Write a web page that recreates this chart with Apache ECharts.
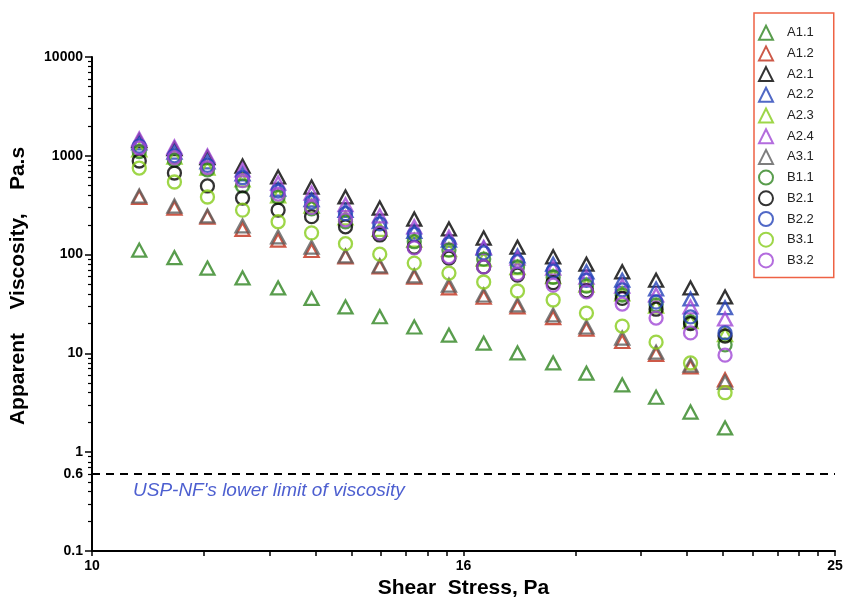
<!DOCTYPE html>
<html>
<head>
<meta charset="utf-8">
<script src="https://cdn.jsdelivr.net/npm/echarts@6/dist/echarts.min.js"></script>
<style>
html, body { margin: 0; background: #fff; }
#chart { width: 845px; height: 600px; }
</style>
</head>
<body>
<div id="chart"></div>
<script>
// shear stress (Pa) of the 18 measuring points
var shearStress = [10.60, 11.07, 11.53, 12.04, 12.58, 13.11, 13.67, 14.26, 14.88, 15.53, 16.21, 16.90, 17.66, 18.40, 19.23, 20.05, 20.92, 21.83];

// apparent viscosity (Pa.s), one list per sample
var A1_1 = [111, 93, 73, 58, 46, 36, 29.5, 23.5, 18.5, 15.3, 12.7, 10.1, 8.0, 6.3, 4.8, 3.6, 2.55, 1.76];
var A1_2 = [380, 296, 240, 180, 140, 110, 95, 75, 59, 46, 37, 29.5, 23, 17.6, 13.2, 9.8, 7.3, 5.4];
var A2_1 = [1420, 1180, 960, 788, 610, 483, 383, 296, 229, 182, 147, 119, 95, 80, 67, 55, 46, 37.3];
var A2_2 = [1350, 1091, 870, 655, 460, 359, 280, 215, 172, 140, 116, 97, 80, 67, 55, 45, 35.6, 29];
var A2_3 = [1150, 972, 752, 570, 393, 310, 235, 180, 140, 112, 90, 74, 60, 49, 40, 30, 21, 15.5];
var A2_4 = [1480, 1227, 995, 718, 530, 420, 320, 246, 191, 150, 118, 92, 73, 59, 48, 39, 29.5, 22.3];
var A3_1 = [392, 310, 246, 195, 151, 119, 97, 77, 61, 49, 39, 31, 24.5, 18.5, 14.3, 10.3, 7.6, 5.1];
var B1_1 = [1100, 900, 720, 495, 380, 290, 215, 166, 135, 111, 90, 75, 59, 48, 39, 30.9, 20.8, 12.2];
var B2_1 = [886, 670, 495, 374, 282, 242, 191, 158, 119, 92, 75, 62, 52, 43, 36, 28, 20, 15];
var B2_2 = [1250, 1000, 800, 600, 440, 340, 260, 205, 160, 128, 104, 85, 68, 55, 44, 33, 23.4, 16.1];
var B3_1 = [752, 543, 383, 282, 215, 166, 129, 101, 82, 65, 52.8, 42.8, 34.7, 25.6, 18.9, 13.0, 8.0, 4.0];
var B3_2 = [1200, 960, 760, 560, 410, 300, 225, 165, 117, 95, 75, 64, 49, 42, 31.6, 22.8, 16.1, 9.6];

var sampleNames = ['A1.1', 'A1.2', 'A2.1', 'A2.2', 'A2.3', 'A2.4', 'A3.1', 'B1.1', 'B2.1', 'B2.2', 'B3.1', 'B3.2'];
var sampleValues = [A1_1, A1_2, A2_1, A2_2, A2_3, A2_4, A3_1, B1_1, B2_1, B2_2, B3_1, B3_2];
var sampleColors = ['#2f8420', '#c0301a', '#000000', '#2442b8', '#86cc1a', '#a047d6', '#5e5e5e',
                    '#2f8420', '#000000', '#2442b8', '#86cc1a', '#a047d6'];

// tick labels of the printed shear stress axis
var xTickLabels = ['10', '16', '25'];
var uspLimit = 0.6;
var uspText = "USP-NF's lower limit of viscosity";

var font = '"Liberation Sans", Arial, sans-serif';

var myChart = echarts.init(document.getElementById('chart'));

var series = sampleNames.map(function (name, i) {
    var isTriangle = name.charAt(0) === 'A';
    return {
        name: name,
        type: 'scatter',
        xAxisIndex: 0,
        symbol: isTriangle ? 'triangle' : 'circle',
        symbolSize: isTriangle ? [14, 13] : 13,
        itemStyle: {
            color: 'rgba(255,255,255,0)',
            borderColor: sampleColors[i],
            borderWidth: 2.3
        },
        emphasis: { disabled: true },
        data: shearStress.map(function (x, j) { return [x, sampleValues[i][j]]; })
    };
});

// dashed limit line and its value label
series[0].markLine = {
    silent: true,
    symbol: 'none',
    animation: false,
    data: [{
        yAxis: uspLimit,
        lineStyle: { color: '#000', type: [8, 6], width: 2 },
        label: {
            show: true, position: 'start', formatter: String(uspLimit), distance: 9,
            color: '#000', fontWeight: 'bold', fontSize: 14, fontFamily: font
        }
    }]
};
// caption under the limit line (line itself invisible)
series[1].markLine = {
    silent: true,
    symbol: 'none',
    animation: false,
    data: [{
        yAxis: uspLimit,
        lineStyle: { color: 'rgba(0,0,0,0)', width: 0 },
        label: {
            show: true, position: 'insideStartBottom', formatter: uspText, distance: [41, 7],
            color: '#4d5fd0', fontStyle: 'italic', fontSize: 19, fontFamily: font
        }
    }]
};

var option = {
    backgroundColor: '#fff',
    animation: false,
    grid: { left: 92, right: 10, top: 57, bottom: 49, outerBoundsMode: 'none' },
    legend: {
        orient: 'vertical',
        left: 754,
        top: 13,
        padding: [11.7, 20, 9, 4],
        itemGap: 4.7,
        itemWidth: 14,
        itemHeight: 14,
        borderColor: '#ee6244',
        borderWidth: 1.5,
        backgroundColor: '#fff',
        selectedMode: false,
        data: sampleNames,
        textStyle: { color: '#222', fontSize: 13, fontFamily: font, padding: [0, 0, 0, 9] }
    },
    xAxis: [
        {   // data axis
            type: 'log',
            min: 10,
            max: 25,
            show: false
        },
        {   // printed axis
            type: 'log',
            min: 1,
            max: 100,
            position: 'bottom',
            name: 'Shear  Stress, Pa',
            nameLocation: 'middle',
            nameGap: 27,
            nameTextStyle: { color: '#000', fontWeight: 'bold', fontSize: 21, fontFamily: font },
            axisLine: { lineStyle: { color: '#000', width: 2 } },
            axisTick: { show: true, length: 5, lineStyle: { color: '#000', width: 1.5 } },
            minorTick: { show: true, splitNumber: 9, length: 5, lineStyle: { color: '#000', width: 1.5 } },
            splitLine: { show: false },
            axisLabel: {
                margin: 8, color: '#000', fontWeight: 'bold', fontSize: 14, fontFamily: font,
                formatter: function (v, idx) { return xTickLabels[idx]; }
            }
        }
    ],
    yAxis: {
        type: 'log',
        min: 0.1,
        max: 10000,
        name: 'Apparent    Viscosity,    Pa.s',
        nameLocation: 'middle',
        nameGap: 63,
        nameTextStyle: { color: '#000', fontWeight: 'bold', fontSize: 21, fontFamily: font, padding: [0, 0, 0, 36] },
        axisLine: { show: true, lineStyle: { color: '#000', width: 2 } },
        axisTick: { show: true, length: 7, lineStyle: { color: '#000', width: 1.5 } },
        minorTick: { show: true, splitNumber: 9, length: 4, lineStyle: { color: '#000', width: 1.2 } },
        splitLine: { show: false },
        axisLabel: {
            margin: 9, color: '#000', fontWeight: 'bold', fontSize: 14, fontFamily: font,
            formatter: function (v) { return String(+Number(v).toPrecision(6)); }
        }
    },
    series: series
};

myChart.setOption(option);
</script>
</body>
</html>
